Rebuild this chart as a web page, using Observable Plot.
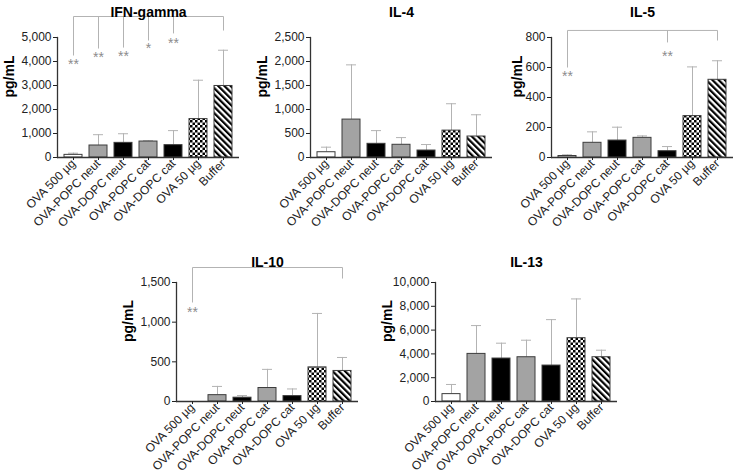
<!DOCTYPE html>
<html><head><meta charset="utf-8">
<script src="https://cdn.jsdelivr.net/npm/d3@7"></script>
<script src="https://cdn.jsdelivr.net/npm/@observablehq/plot@0.6"></script>
<style>
body{margin:0;background:#fff;font-family:"Liberation Sans",Arial,sans-serif}
#wrap{position:relative;width:736px;height:475px;overflow:hidden;background:#fff}
.panel{position:absolute}
</style></head><body>
<svg width="0" height="0" style="position:absolute">
<defs>
<pattern id="checker" patternUnits="userSpaceOnUse" width="5" height="5">
<rect width="5" height="5" fill="#fff"/>
<rect width="2.5" height="2.5" fill="#000"/>
<rect x="2.5" y="2.5" width="2.5" height="2.5" fill="#000"/>
</pattern>
<pattern id="stripes" patternUnits="userSpaceOnUse" width="4.4" height="10" patternTransform="rotate(-45)">
<rect width="4.4" height="10" fill="#fff"/>
<rect width="2.2" height="10" fill="#000"/>
</pattern>
</defs></svg>
<div id="wrap"></div>
<script>
// ---- data ----
const groups = ["OVA 500 µg","OVA-POPC neut","OVA-DOPC neut","OVA-POPC cat","OVA-DOPC cat","OVA 50 µg","Buffer"];
const groupFills = ["#ffffff","#a3a3a3","#000000","#a3a3a3","#000000","url(#checker)","url(#stripes)"];

const titles = ["IFN-gamma","IL-4","IL-5","IL-10","IL-13"];

const ifnMean  = [110, 500, 610, 665, 515, 1600, 2980];
const ifnUpper = [180, 950, 990, 700, 1120, 3220, 4470];
const il4Mean  = [110, 790, 285, 265, 145, 560, 437];
const il4Upper = [215, 1930, 560, 415, 270, 1120, 890];
const il5Mean  = [10, 98, 113, 131, 42, 276, 518];
const il5Upper = [18, 171, 202, 144, 73, 604, 645];
const il10Mean  = [0, 80, 48, 170, 68, 430, 385];
const il10Upper = [0, 190, 75, 405, 158, 1110, 555];
const il13Mean  = [620, 4000, 3610, 3720, 3020, 5320, 3720];
const il13Upper = [1430, 6380, 4900, 5150, 6880, 8620, 4310];

const ifnTicks  = [0,1000,2000,3000,4000,5000];
const il4Ticks  = [0,500,1000,1500,2000,2500];
const il5Ticks  = [0,200,400,600,800];
const il10Ticks = [0,500,1000,1500];
const il13Ticks = [0,2000,4000,6000,8000,10000];

// significance brackets: [bracket level, from index, to index]
const ifnBracket = [5875, 0, 6];
const ifnDrops = [[0,4250],[1,4540],[2,4580],[3,4875],[4,5170],[6,5290]];
const ifnStars = [[0,"**",4040],[1,"**",4330],[2,"**",4390],[3,"*",4690],[4,"**",4930]];
const il5Bracket = [847, 0, 6];
const il5Drops = [[0,600],[4,767],[6,780]];
const il5Stars = [[0,"**",567],[4,"**",700]];
const il10Bracket = [1689, 0, 6];
const il10Drops = [[0,1248],[6,1550]];
const il10Stars = [[0,"**",1172]];

// ---- drawing ----
const ML = 57, FW = 182, MR = 3;
const font = "Liberation Sans, Arial, sans-serif";

function panel(cfg) {
  const data = groups.map((g, i) => ({g, v: cfg.mean[i], u: cfg.upper[i]}));
  const errs = data.filter(d => d.u > d.v);
  const marks = [];
  if (cfg.bracket) {
    const [lvl, a, b] = cfg.bracket;
    const links = [{x1: groups[a], x2: groups[b], y1: lvl, y2: lvl}]
      .concat(cfg.drops.map(([i, e]) => ({x1: groups[i], x2: groups[i], y1: lvl, y2: e})));
    marks.push(Plot.link(links, {x1:"x1", x2:"x2", y1:"y1", y2:"y2", stroke:"#b3b3b3", strokeWidth:1}));
    marks.push(Plot.text(cfg.stars.map(([i, t, y]) => ({g: groups[i], t, y})),
      {x:"g", y:"y", text:"t", fill:"#8c8c8c", fontSize:14, dy:4}));
  }
  marks.push(
    Plot.ruleX(errs, {x:"g", y1:"v", y2:"u", stroke:"#b3b3b3", strokeWidth:1}),
    Plot.tickY(errs, {x:"g", y:"u", stroke:"#b3b3b3", strokeWidth:1, insetLeft:4, insetRight:4}),
    Plot.barY(data, {x:"g", y:"v", fill:"g", stroke:"#3c3c3c", strokeWidth:1}),
    Plot.ruleY([0], {stroke:"#333", strokeWidth:1.3}),
    Plot.frame({anchor:"left", stroke:"#333", strokeWidth:1.3}),
    Plot.axisY({ticks: cfg.ticks, tickFormat: d3.format(","), tickSize:4, tickPadding:2, fontSize:12, label:null, color:"#222"}),
    Plot.axisX({tickRotate:-45, tickSize:3, tickPadding:1, fontSize:12, label:null, color:"#222"}),
    Plot.text([cfg.title], {frameAnchor:"top", dy: cfg.titleDy, fontSize:14, fontWeight:"bold", fill:"#000"}),
    Plot.text(["pg/mL"], {frameAnchor:"left", dx: cfg.labelDx, rotate:-90, fontSize:14, fontWeight:"bold", fill:"#000"})
  );
  const svg = Plot.plot({
    width: ML + FW + MR, height: cfg.height,
    marginLeft: ML, marginRight: MR, marginTop: cfg.mt, marginBottom: cfg.height - cfg.mt - cfg.fh,
    style: {background:"none", overflow:"visible", fontFamily: font, color:"#222"},
    x: {domain: groups, paddingInner: 0.3, paddingOuter: 0.195, label: null},
    y: {domain: [0, cfg.ticks[cfg.ticks.length - 1]], label: null},
    color: {domain: groups, range: groupFills},
    marks
  });
  const div = document.createElement("div");
  div.className = "panel";
  div.style.left = (cfg.axis - ML) + "px";
  div.style.top = cfg.top + "px";
  div.appendChild(svg);
  document.getElementById("wrap").appendChild(div);
}

const topRow = {top: 0, height: 240, mt: 37, fh: 120, titleDy: -30};
const botRow = {top: 240, height: 235, mt: 42, fh: 119, titleDy: -25};

panel({...topRow, axis: 57, title: titles[0], mean: ifnMean, upper: ifnUpper, ticks: ifnTicks, labelDx: -48,
  bracket: ifnBracket, drops: ifnDrops, stars: ifnStars});
panel({...topRow, axis: 310, title: titles[1], mean: il4Mean, upper: il4Upper, ticks: il4Ticks, labelDx: -48});
panel({...topRow, axis: 551, title: titles[2], mean: il5Mean, upper: il5Upper, ticks: il5Ticks, labelDx: -34,
  bracket: il5Bracket, drops: il5Drops, stars: il5Stars});
panel({...botRow, axis: 176, title: titles[3], mean: il10Mean, upper: il10Upper, ticks: il10Ticks, labelDx: -48,
  bracket: il10Bracket, drops: il10Drops, stars: il10Stars});
panel({...botRow, axis: 435, title: titles[4], mean: il13Mean, upper: il13Upper, ticks: il13Ticks, labelDx: -48});
</script>
</body></html>
